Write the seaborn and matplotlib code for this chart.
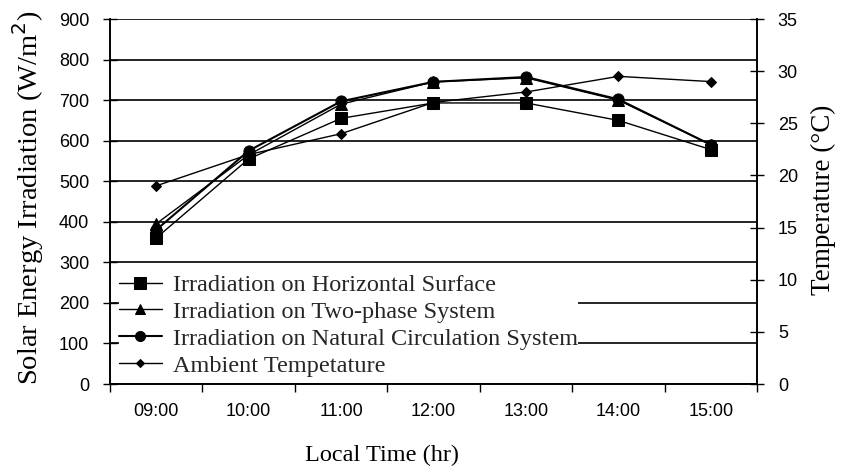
import matplotlib
matplotlib.use("Agg")
import matplotlib.pyplot as plt
import seaborn as sns
import pandas as pd
import numpy as np
from matplotlib.ticker import FixedLocator, MultipleLocator

times = ["09:00", "10:00", "11:00", "12:00", "13:00", "14:00", "15:00"]
horizontal = [360, 555, 655, 693, 693, 650, 578]
two_phase = [395, 565, 690, 745, 755, 700, 590]
natural = [380, 575, 697, 745, 757, 702, 590]
ambient = [19, 22, 24, 27, 28, 29.5, 29]

sns.set_theme(style="white")
plt.rcParams['font.family'] = ['Liberation Sans', 'DejaVu Sans']

fig = plt.figure(figsize=(8.42, 4.73), dpi=100)
ax = fig.add_axes([110/842, 89/473, 647/842, 365/473])
ax2 = ax.twinx()

idx = np.arange(len(times))
df = pd.DataFrame({"t": idx, "h": horizontal, "tp": two_phase, "n": natural, "a": ambient})

serif = ['Liberation Serif', 'DejaVu Serif']

sns.lineplot(data=df, x="t", y="h", ax=ax, color="black", lw=1, marker="s", markersize=9,
             markeredgecolor="black", label="Irradiation on Horizontal Surface", legend=False)
sns.lineplot(data=df, x="t", y="tp", ax=ax, color="black", lw=1, marker="^", markersize=8,
             markeredgecolor="black", label="Irradiation on Two-phase System", legend=False)
sns.lineplot(data=df, x="t", y="n", ax=ax, color="black", lw=1.5, marker="o", markersize=8,
             markeredgecolor="black", label="Irradiation on Natural Circulation System", legend=False)
sns.lineplot(data=df, x="t", y="a", ax=ax2, color="black", lw=1, marker="D", markersize=5,
             markeredgecolor="black", label="Ambient Tempetature", legend=False)

ax.set_xlim(-0.5, 6.5)
ax.set_ylim(0, 900)
ax2.set_ylim(0, 35)

ax.yaxis.set_major_locator(MultipleLocator(100))
ax2.yaxis.set_major_locator(MultipleLocator(5))
ax.grid(axis="y", color="black", lw=1.2)
ax.grid(axis="x", visible=False)
ax2.grid(False)

ax.xaxis.set_major_locator(FixedLocator(np.arange(-0.5, 7.0, 1.0)))
ax.xaxis.set_minor_locator(FixedLocator(idx))
ax.set_xticklabels([""] * 8)
ax.set_xticklabels(times, minor=True)
ax.tick_params(axis="x", which="major", direction="out", length=6, width=1, color="black", bottom=True)
ax.tick_params(axis="x", which="minor", length=0, pad=14, labelsize=13, labelcolor="black")
ax.tick_params(axis="y", direction="inout", length=10, width=1, color="black", left=True,
               labelsize=13, labelcolor="black", pad=10)
ax2.tick_params(axis="y", direction="inout", length=10, width=1, color="black", right=True,
                labelsize=13, labelcolor="black", pad=10)

for a in (ax, ax2):
    for s in ["top"]:
        a.spines[s].set_visible(False)
    for s in ["left", "right", "bottom"]:
        a.spines[s].set_color("black")
        a.spines[s].set_linewidth(1.2)

ax.set_xlabel("Local Time (hr)", family=serif, fontsize=17.5, color="black")
ax.xaxis.set_label_coords((382 - 110) / 647, -(455 - 384) / 365, transform=ax.transAxes)
ax.xaxis.label.set_va("center")
ax.set_ylabel("Solar Energy Irradiation (W/m$^2$)", family=serif, fontsize=20.5, color="black")
ax.yaxis.set_label_coords(-(110 - 28) / 647, 0.51)
ax.yaxis.label.set_va("center")
ax2.set_ylabel("Temperature (\u00b0C)", family=serif, fontsize=19.5, color="black")
ax2.yaxis.set_label_coords(1 + (823 - 757) / 647, (384 - 200) / 365)
ax2.yaxis.label.set_va("center")

h1, l1 = ax.get_legend_handles_labels()
h2, l2 = ax2.get_legend_handles_labels()
leg = ax2.legend(h1 + h2, l1 + l2, loc="lower left", bbox_to_anchor=(0.014, 0.02),
                 prop={"family": serif, "size": 17.5}, frameon=True, framealpha=1,
                 facecolor="white", edgecolor="none", handlelength=1.75, handletextpad=0.45,
                 labelspacing=0.2, borderaxespad=0.0, borderpad=0.0, fancybox=False,
                 markerscale=0.9)

fig.savefig("out.png", dpi=100)
